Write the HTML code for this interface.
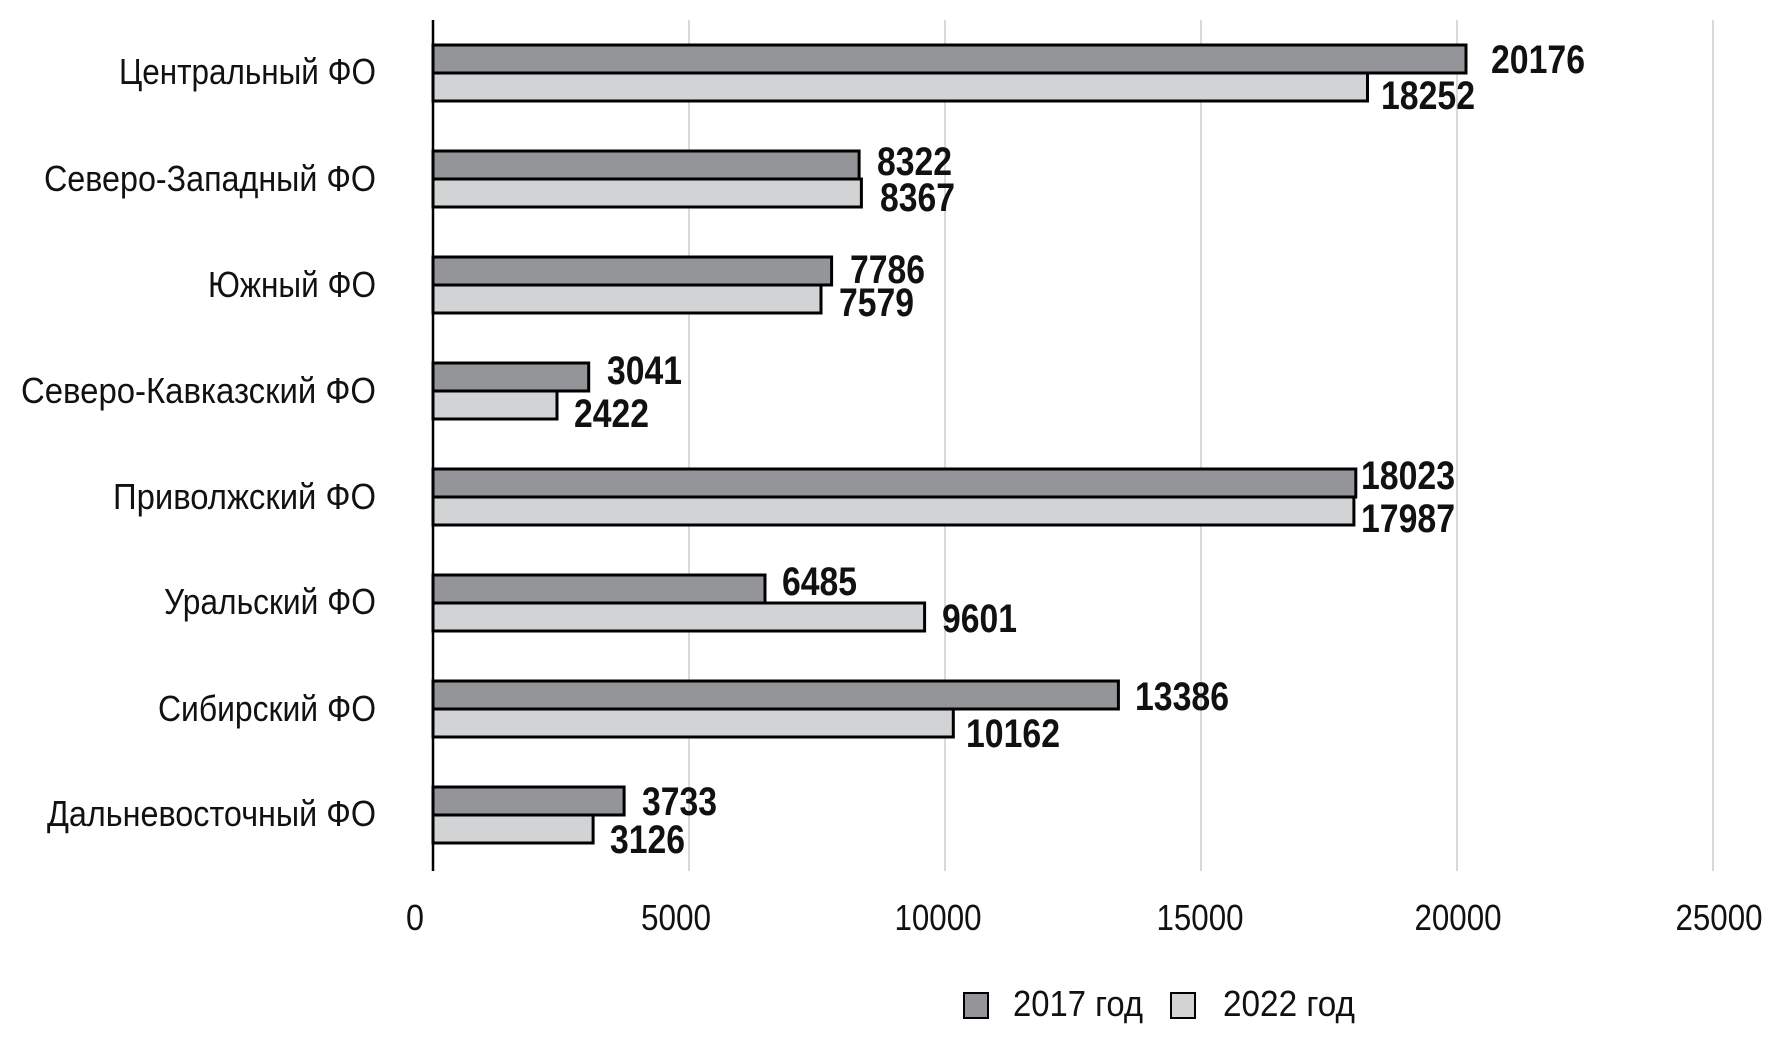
<!DOCTYPE html>
<html><head><meta charset="utf-8"><style>
html,body{margin:0;padding:0;background:#fff;}
svg{display:block;}
text{font-family:"Liberation Sans Narrow","Liberation Sans",sans-serif;fill:#111;}
.c{font-size:36px;}
.v{font-size:40px;font-weight:bold;}
.t{font-size:36px;}
</style></head><body>
<svg width="1775" height="1048" viewBox="0 0 1775 1048" xmlns="http://www.w3.org/2000/svg">
<g stroke="#d9d9d9" stroke-width="2">
<line x1="689" y1="20" x2="689" y2="871"/>
<line x1="945" y1="20" x2="945" y2="871"/>
<line x1="1201" y1="20" x2="1201" y2="871"/>
<line x1="1457" y1="20" x2="1457" y2="871"/>
<line x1="1713" y1="20" x2="1713" y2="871"/>
</g>
<g stroke="#000" stroke-width="3">
<rect x="433" y="45" width="1033" height="28" fill="#939598"/>
<rect x="433" y="73" width="934.5" height="28" fill="#d1d3d4"/>
<rect x="433" y="151" width="426.1" height="28" fill="#939598"/>
<rect x="433" y="179" width="428.4" height="28" fill="#d1d3d4"/>
<rect x="433" y="257" width="398.6" height="28" fill="#939598"/>
<rect x="433" y="285" width="388" height="28" fill="#d1d3d4"/>
<rect x="433" y="363" width="155.7" height="28" fill="#939598"/>
<rect x="433" y="391" width="124" height="28" fill="#d1d3d4"/>
<rect x="433" y="469" width="922.8" height="28" fill="#939598"/>
<rect x="433" y="497" width="920.9" height="28" fill="#d1d3d4"/>
<rect x="433" y="575" width="332" height="28" fill="#939598"/>
<rect x="433" y="603" width="491.6" height="28" fill="#d1d3d4"/>
<rect x="433" y="681" width="685.4" height="28" fill="#939598"/>
<rect x="433" y="709" width="520.3" height="28" fill="#d1d3d4"/>
<rect x="433" y="787" width="191.1" height="28" fill="#939598"/>
<rect x="433" y="815" width="160.1" height="28" fill="#d1d3d4"/>
</g>
<line x1="433" y1="20" x2="433" y2="871" stroke="#000" stroke-width="2.5"/>
<g class="c" text-anchor="end">
<text x="376" y="84" textLength="257" lengthAdjust="spacingAndGlyphs">Центральный ФО</text>
<text x="376" y="191" textLength="332" lengthAdjust="spacingAndGlyphs">Северо-Западный ФО</text>
<text x="376" y="297" textLength="168" lengthAdjust="spacingAndGlyphs">Южный ФО</text>
<text x="376" y="403" textLength="355" lengthAdjust="spacingAndGlyphs">Северо-Кавказский ФО</text>
<text x="376" y="509" textLength="263" lengthAdjust="spacingAndGlyphs">Приволжский ФО</text>
<text x="376" y="614" textLength="212" lengthAdjust="spacingAndGlyphs">Уральский ФО</text>
<text x="376" y="721" textLength="218" lengthAdjust="spacingAndGlyphs">Сибирский ФО</text>
<text x="376" y="826" textLength="329" lengthAdjust="spacingAndGlyphs">Дальневосточный ФО</text>
</g>
<g class="v">
<text x="1491" y="73" textLength="94" lengthAdjust="spacingAndGlyphs">20176</text>
<text x="1381" y="109" textLength="94" lengthAdjust="spacingAndGlyphs">18252</text>
<text x="877" y="175" textLength="75" lengthAdjust="spacingAndGlyphs">8322</text>
<text x="880" y="211" textLength="75" lengthAdjust="spacingAndGlyphs">8367</text>
<text x="850" y="283" textLength="75" lengthAdjust="spacingAndGlyphs">7786</text>
<text x="839" y="316" textLength="75" lengthAdjust="spacingAndGlyphs">7579</text>
<text x="607" y="384" textLength="75" lengthAdjust="spacingAndGlyphs">3041</text>
<text x="574" y="427" textLength="75" lengthAdjust="spacingAndGlyphs">2422</text>
<text x="1361" y="489" textLength="94" lengthAdjust="spacingAndGlyphs">18023</text>
<text x="1361" y="532" textLength="94" lengthAdjust="spacingAndGlyphs">17987</text>
<text x="782" y="595" textLength="75" lengthAdjust="spacingAndGlyphs">6485</text>
<text x="942" y="632" textLength="75" lengthAdjust="spacingAndGlyphs">9601</text>
<text x="1135" y="710" textLength="94" lengthAdjust="spacingAndGlyphs">13386</text>
<text x="966" y="747" textLength="94" lengthAdjust="spacingAndGlyphs">10162</text>
<text x="642" y="815" textLength="75" lengthAdjust="spacingAndGlyphs">3733</text>
<text x="610" y="853" textLength="75" lengthAdjust="spacingAndGlyphs">3126</text>
</g>
<g class="t" text-anchor="middle">
<text x="415" y="930" textLength="18" lengthAdjust="spacingAndGlyphs">0</text>
<text x="676" y="930" textLength="70" lengthAdjust="spacingAndGlyphs">5000</text>
<text x="938" y="930" textLength="87" lengthAdjust="spacingAndGlyphs">10000</text>
<text x="1200" y="930" textLength="87" lengthAdjust="spacingAndGlyphs">15000</text>
<text x="1458" y="930" textLength="87" lengthAdjust="spacingAndGlyphs">20000</text>
<text x="1719" y="930" textLength="87" lengthAdjust="spacingAndGlyphs">25000</text>
</g>
<rect x="964" y="993" width="24" height="25" fill="#939598" stroke="#000" stroke-width="2"/>
<text class="t" x="1013" y="1016" textLength="130" lengthAdjust="spacingAndGlyphs">2017 год</text>
<rect x="1171" y="993" width="24" height="25" fill="#d1d3d4" stroke="#000" stroke-width="2"/>
<text class="t" x="1223" y="1016" textLength="132" lengthAdjust="spacingAndGlyphs">2022 год</text>
</svg>
</body></html>
